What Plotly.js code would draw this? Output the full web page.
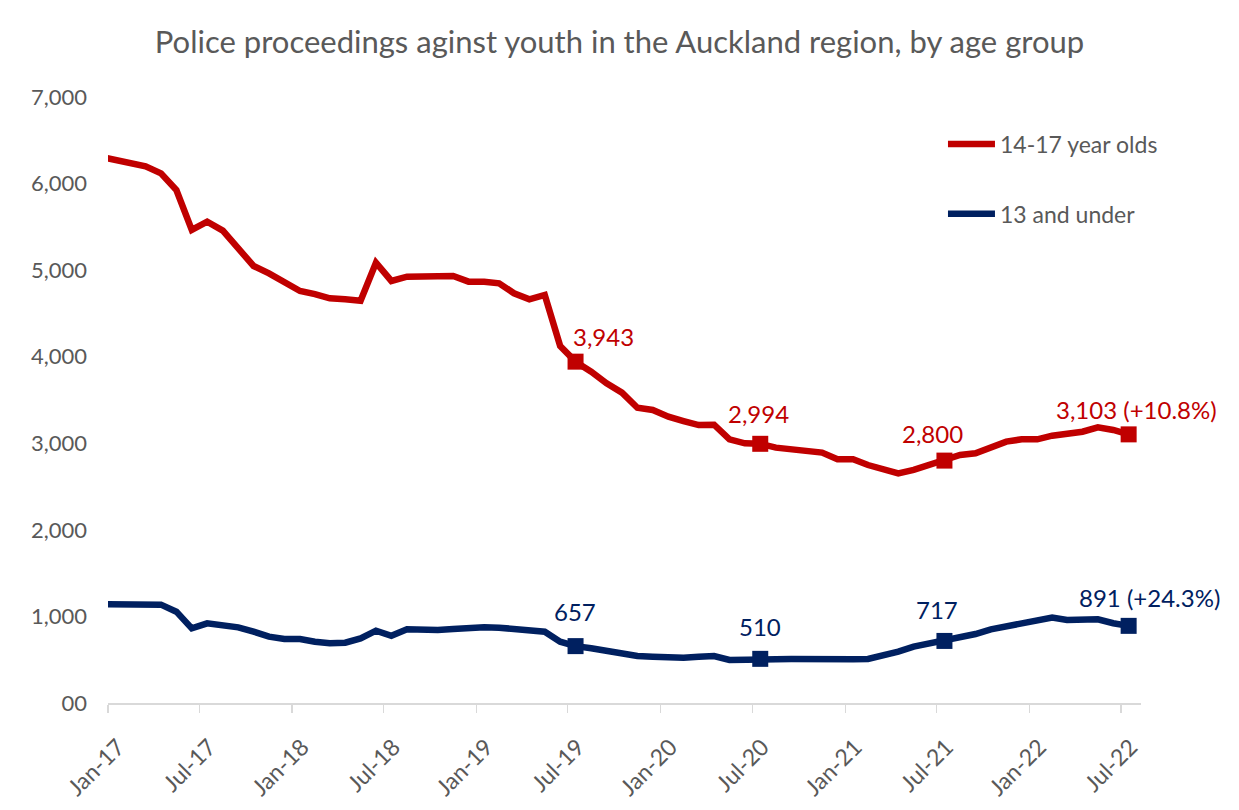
<!DOCTYPE html>
<html>
<head>
<meta charset="utf-8">
<script src="https://cdn.plot.ly/plotly-3.0.1.min.js"></script>
<style>html,body{margin:0;padding:0;background:#fff;}#chart{width:1239px;height:810px;}</style>
</head>
<body>
<div id="chart"></div>
<script>
// Months (first day of each month); data plotted at mid-month
const months = [
  '2016-12-01',
  '2017-01-01','2017-02-01','2017-03-01','2017-04-01','2017-05-01','2017-06-01',
  '2017-07-01','2017-08-01','2017-09-01','2017-10-01','2017-11-01','2017-12-01',
  '2018-01-01','2018-02-01','2018-03-01','2018-04-01','2018-05-01','2018-06-01',
  '2018-07-01','2018-08-01','2018-09-01','2018-10-01','2018-11-01','2018-12-01',
  '2019-01-01','2019-02-01','2019-03-01','2019-04-01','2019-05-01','2019-06-01',
  '2019-07-01','2019-08-01','2019-09-01','2019-10-01','2019-11-01','2019-12-01',
  '2020-01-01','2020-02-01','2020-03-01','2020-04-01','2020-05-01','2020-06-01',
  '2020-07-01','2020-08-01','2020-09-01','2020-10-01','2020-11-01','2020-12-01',
  '2021-01-01','2021-02-01','2021-03-01','2021-04-01','2021-05-01','2021-06-01',
  '2021-07-01','2021-08-01','2021-09-01','2021-10-01','2021-11-01','2021-12-01',
  '2022-01-01','2022-02-01','2022-03-01','2022-04-01','2022-05-01','2022-06-01',
  '2022-07-01'
];

const youth1417 = [
  6310,
  6272,6241,6199,6118,5926,5464,
  5560,5456,5252,5048,4963,4867,
  4759,4724,4675,4663,4647,5086,
  4875,4925,4932,4932,4932,4867,
  4867,4848,4733,4663,4713,4124,
  3943,3827,3693,3585,3411,3385,
  3307,3257,3211,3215,3046,3000,
  2994,2950,2930,2903,2892,2815,
  2815,2749,2711,2653,2692,2749,
  2800,2865,2884,2942,3019,3046,
  3046,3088,3107,3134,3184,3154,
  3103
];

const under13 = [
  1140,
  1136,1128,1130,1136,1055,862,
  920,893,874,824,766,739,
  739,708,689,697,747,835,
  777,851,843,843,855,870,
  874,870,855,843,824,708,
  657,632,601,581,543,535,
  528,524,535,543,497,505,
  510,505,508,512,512,508,
  505,508,543,593,651,689,
  717,766,797,851,882,913,
  940,986,959,967,967,921,
  891
];

// Highlighted points and their labels
const labelMonths = ['2019-07-01','2020-07-01','2021-07-01','2022-07-01'];
const labels1417 = [3943, 2994, 2800, 3103];
const labelText1417 = ['3,943', '2,994', '2,800', '3,103 (+10.8%)'];
const labels13 = [657, 510, 717, 891];
const labelText13 = ['657', '510', '717', '891 (+24.3%)'];

// Axis ticks
const xTickVals = ['2017-01-01','2017-07-01','2018-01-01','2018-07-01','2019-01-01','2019-07-01',
                   '2020-01-01','2020-07-01','2021-01-01','2021-07-01','2022-01-01','2022-07-01'];
const xTickText = ['Jan-17','Jul-17','Jan-18','Jul-18','Jan-19','Jul-19',
                   'Jan-20','Jul-20','Jan-21','Jul-21','Jan-22','Jul-22'];
const yTickVals = [0,1000,2000,3000,4000,5000,6000,7000];
const yTickText = ['00','1,000','2,000','3,000','4,000','5,000','6,000','7,000'];

const RED = '#C00000';
const BLUE = '#002060';
const GREY = '#595959';
const FONT = 'Lato, "Open Sans", sans-serif';

const period = {xperiod: 'M1', xperiodalignment: 'middle'};

const traces = [
  Object.assign({
    x: months, y: youth1417, type: 'scatter', mode: 'lines',
    name: '14-17 year olds', legendgroup: 'a',
    line: {color: RED, width: 6.5, shape: 'linear'},
    hoverinfo: 'x+y'
  }, period),
  Object.assign({
    x: months, y: under13, type: 'scatter', mode: 'lines',
    name: '13 and under', legendgroup: 'b',
    line: {color: BLUE, width: 6.5, shape: 'linear'},
    hoverinfo: 'x+y'
  }, period),
  Object.assign({
    x: labelMonths, y: labels1417, type: 'scatter', mode: 'markers',
    showlegend: false, marker: {symbol: 'square', size: 16, color: RED}
  }, period),
  Object.assign({
    x: labelMonths, y: labels13, type: 'scatter', mode: 'markers',
    showlegend: false, marker: {symbol: 'square', size: 16, color: BLUE}
  }, period)
];

// label offsets (pixels) relative to the marker centre
const midShift = 7.8;
const redDX = [28, -2, -12, 8], redDY = [25, 30, 27, 25];
const blueDX = [-1, 0, -7, 21], blueDY = [35, 32, 31, 28];

const annotations = [];
labelMonths.forEach((m, i) => {
  annotations.push({
    x: m, y: labels1417[i], xref: 'x', yref: 'y', text: labelText1417[i],
    showarrow: false, xanchor: 'center', yanchor: 'middle',
    xshift: midShift + redDX[i], yshift: redDY[i],
    font: {family: FONT, size: 24, color: RED}
  });
  annotations.push({
    x: m, y: labels13[i], xref: 'x', yref: 'y', text: labelText13[i],
    showarrow: false, xanchor: 'center', yanchor: 'middle',
    xshift: midShift + blueDX[i], yshift: blueDY[i],
    font: {family: FONT, size: 24, color: BLUE}
  });
});

const layout = {
  width: 1239, height: 810,
  margin: {l: 108, r: 98, t: 97, b: 107, pad: 0},
  paper_bgcolor: '#ffffff', plot_bgcolor: '#ffffff',
  font: {family: FONT, color: GREY, size: 22},
  title: {
    text: 'Police proceedings aginst youth in the Auckland region, by age group',
    font: {family: FONT, size: 31, color: GREY},
    x: 0.5, xref: 'container', xanchor: 'center',
    y: 1 - 42/810, yref: 'container', yanchor: 'middle'
  },
  xaxis: {
    type: 'date',
    range: ['2017-01-01', '2022-08-10'],
    tickmode: 'array', tickvals: xTickVals, ticktext: xTickText,
    tickangle: -45,
    tickfont: {family: FONT, size: 23, color: GREY},
    ticklabelstandoff: 12, ticklabelshift: 10,
    showgrid: false, zeroline: false,
    showline: true, linecolor: '#D9D9D9', linewidth: 1.5,
    ticks: 'outside', ticklen: 8, tickwidth: 1.5, tickcolor: '#D9D9D9',
    fixedrange: true
  },
  yaxis: {
    range: [0, 7000],
    tickmode: 'array', tickvals: yTickVals, ticktext: yTickText,
    tickfont: {family: FONT, size: 22, color: GREY},
    showgrid: false, zeroline: false, showline: false, ticks: '',
    ticklabelstandoff: 20,
    fixedrange: true
  },
  showlegend: true,
  legend: {
    x: 0.8083, xref: 'paper', xanchor: 'left',
    y: 0.958, yref: 'paper', yanchor: 'top',
    font: {family: FONT, size: 23, color: GREY},
    bgcolor: 'rgba(0,0,0,0)',
    itemwidth: 47,
    tracegroupgap: 37,
    traceorder: 'grouped'
  },
  annotations: annotations
};

Plotly.newPlot('chart', traces, layout, {displayModeBar: false, staticPlot: true});
</script>
</body>
</html>
